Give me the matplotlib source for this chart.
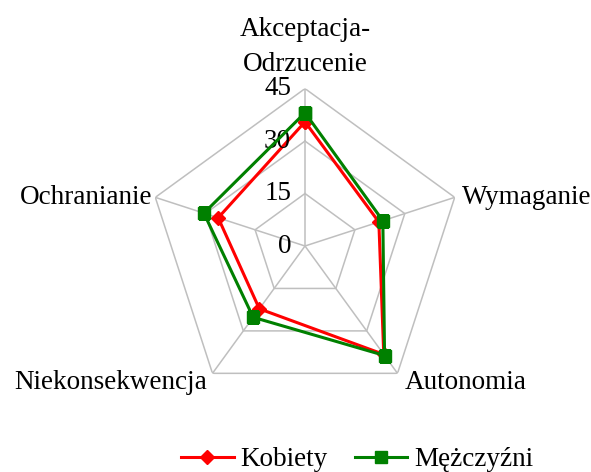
import matplotlib.pyplot as plt
import numpy as np

plt.rcParams['font.family'] = ['Liberation Serif', 'DejaVu Serif']

categories = ['Akceptacja-\nOdrzucenie', 'Wymaganie', 'Autonomia',
              'Niekonsekwencja', 'Ochranianie']
kobiety = [35.5, 22.2, 38.3, 22.2, 26.1]
mezczyzni = [38.1, 23.4, 38.7, 25.2, 30.4]
ticks = [0, 15, 30, 45]

W, H = 591, 472
fig = plt.figure(figsize=(W / 100, H / 100), dpi=100)

cx, cy, R = 305, 246, 157.4
ax = fig.add_axes([(cx - R) / W, (H - cy - R) / H, 2 * R / W, 2 * R / H],
                  projection='polar')
ax.set_theta_offset(np.pi / 2)
ax.set_theta_direction(-1)
ax.set_ylim(0, 45)
ax.set_xticks([])
ax.set_yticks([])
ax.grid(False)
ax.spines['polar'].set_visible(False)
ax.patch.set_visible(False)

n = len(categories)
theta = np.arange(n) * 2 * np.pi / n
theta_c = np.append(theta, theta[0])

grid_col = '#bfbfbf'
for t in ticks[1:]:
    ax.plot(theta_c, [t] * (n + 1), color=grid_col, lw=1.1, zorder=1)
for th in theta:
    ax.plot([th, th], [0, 45], color=grid_col, lw=1.1, zorder=1)

ax.plot(theta_c, kobiety + kobiety[:1], color='#ff0000', lw=2.2,
        marker='D', ms=7, label='Kobiety', zorder=3)
ax.plot(theta_c, mezczyzni + mezczyzni[:1], color='#008000', lw=2.2,
        marker='s', ms=8.5, label='Mężczyźni', zorder=4)

fs = 19.5
for t in ticks:
    ax.annotate(str(t), xy=(0, t), xytext=(-10, 0), textcoords='offset points',
                ha='right', va='center', fontsize=fs, annotation_clip=False)

# category labels (offsets in points from each outer vertex)
offsets = [(0, 30, 'center', 'center'), (5, 0, 'left', 'center'),
           (5, -6.5, 'left', 'center'), (-4, -6.5, 'right', 'center'),
           (-2, 0, 'right', 'center')]
for th, lab, (dx, dy, ha, va) in zip(theta, categories, offsets):
    ax.annotate(lab, xy=(th, 45), xytext=(dx, dy), textcoords='offset points',
                ha=ha, va=va, fontsize=fs, linespacing=1.5,
                annotation_clip=False)

fig.legend(loc='center', bbox_to_anchor=(357 / W, 1 - 460 / H), ncol=2,
           frameon=False, fontsize=fs, handlelength=1.95, handletextpad=0.25,
           columnspacing=1.0, borderaxespad=0, borderpad=0)

fig.savefig('out.png', dpi=100)
